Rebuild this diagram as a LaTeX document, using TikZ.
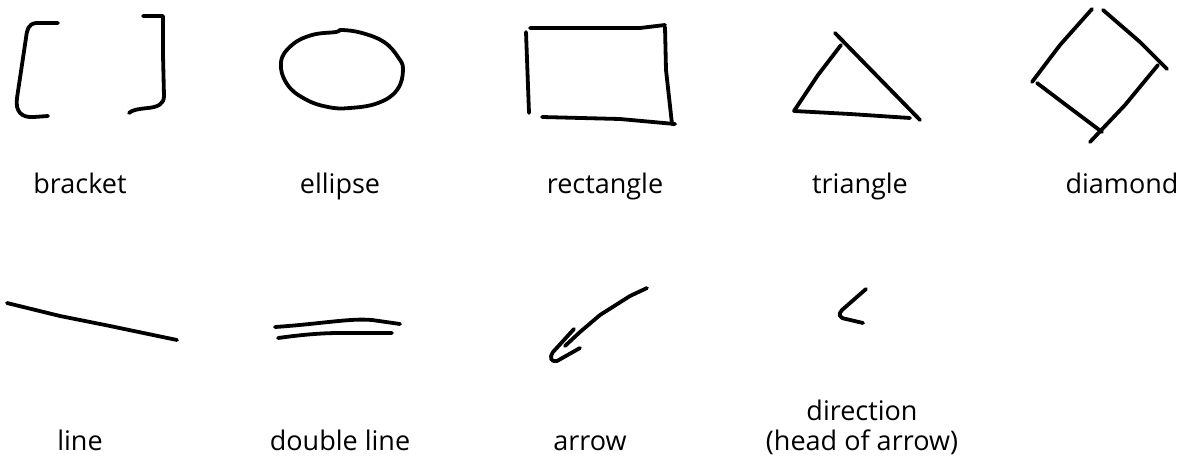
\documentclass[tikz,border=0pt]{standalone}
\usepackage{fontspec}
\setmainfont{Open Sans}
\begin{document}
\begin{tikzpicture}[
        x=1pt, y=-1pt,
        % pen strokes of the hand sketch
        pen/.style={line width=3.8pt, line cap=round, line join=round},
        lbl/.style={font=\fontsize{27}{30}\selectfont, align=center, inner sep=0pt, anchor=base}
    ]
        \useasboundingbox (0,0) rectangle (1185,458);

        % Top row: shapes
        \draw[pen] (58,23) -- (36,23) .. controls (28,24) and (27,30) .. (26,38)
            -- (17,98) .. controls (15,112) and (22,118) .. (34,117) -- (48,116);
        \draw[pen] (143,16) -- (163,16) -- (163,55) -- (164,96)
            .. controls (164,104) and (158,107) .. (148,108) .. controls (138,109) and (132,110) .. (129,113);
        \draw[pen] plot[smooth cycle, tension=0.7] coordinates
            {(281,62) (292,45) (312,35) (336,32) (342,30) (362,33) (384,42) (398,57) (403,70)
             (397,90) (378,103) (350,108) (328,107) (305,99) (287,84)};
        \draw[pen] (530,28) -- (640,28) -- (665,25);
        \draw[pen] (526,32) -- (529,113);
        \draw[pen] (542,117) -- (620,119) -- (675,124);
        \draw[pen] (665,27) -- (666,70) -- (672,124);
        \draw[pen] (835,33) -- (920,120);
        \draw[pen] (841,45) -- (818,75) -- (794,111) -- (850,114) -- (910,118);
        \draw[pen] (1092,9) -- (1060,45) -- (1032,82);
        \draw[pen] (1103,10) -- (1140,42) -- (1167,69);
        \draw[pen] (1037,83) -- (1070,108) -- (1102,132);
        \draw[pen] (1158,65) -- (1125,105) -- (1090,142);

        % Top row: labels
        \node[lbl] (bracket) at (80,193) {bracket};
        \node[lbl] (ellipse) at (340,193) {ellipse};
        \node[lbl] (rectangle) at (605,193) {rectangle};
        \node[lbl] (triangle) at (860,193) {triangle};
        \node[lbl] (diamond) at (1122,193) {diamond};

        % Bottom row: strokes
        \draw[pen] (7,303) -- (60,316) -- (110,326) -- (177,340);
        \draw[pen] (275,327) .. controls (320,324) and (350,318) .. (372,320) -- (400,324);
        \draw[pen] (278,338) .. controls (300,335) and (320,333) .. (340,333) -- (392,333);
        \draw[pen] (647,288) -- (630,296) -- (600,315) -- (580,332) -- (565,346);
        \draw[pen] (574,329) -- (553,352) .. controls (549,358) and (551,362) .. (557,361) -- (580,348);
        \draw[pen] (866,289) -- (842,310) .. controls (838,314) and (839,318) .. (846,319) -- (863,323);

        % Bottom row: labels
        \node[lbl] (line) at (80,450) {line};
        \node[lbl] (doubleline) at (340,450) {double line};
        \node[lbl] (arrow) at (590,450) {arrow};
        \node[lbl] (direction) at (862,420) {direction};
        \node[lbl] (headofarrow) at (862,450) {(head of arrow)};
    \end{tikzpicture}
\end{document}
